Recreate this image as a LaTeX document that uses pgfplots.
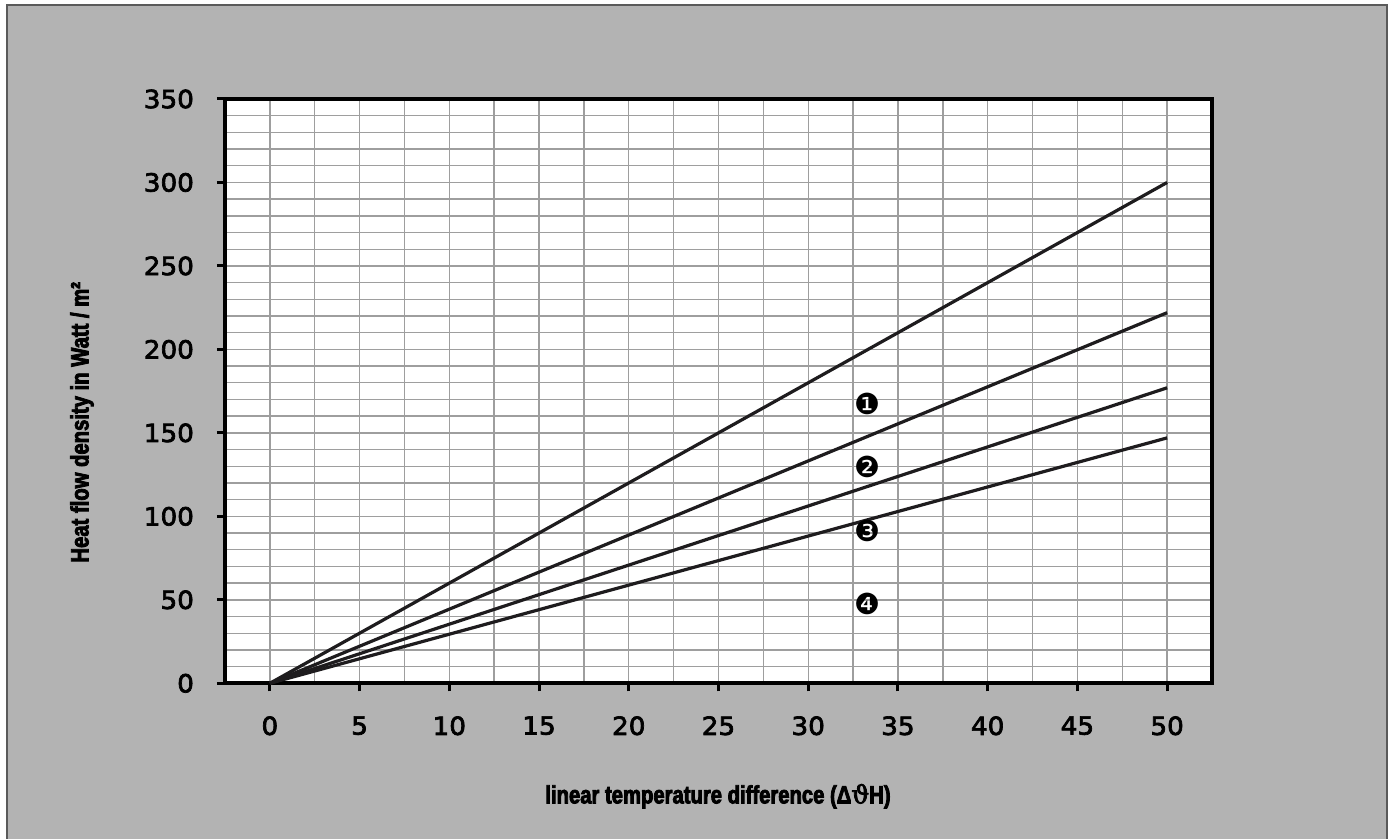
\documentclass[border=0pt]{standalone}
\usepackage{fontspec}
\setmainfont{Liberation Sans}
\newfontfamily\labfont[FakeStretch=0.81]{Liberation Sans Bold}
\newfontfamily\tickfont[FakeStretch=1.05]{DejaVu Sans}
\newfontfamily\symfont{DejaVu Sans}
\newfontfamily\thetafont{DejaVu Serif}
\newcommand\heavy[2]{\special{pdf:literal direct 2 Tr #1 w}#2\special{pdf:literal direct 0 Tr}}
\usepackage{pgfplots}
\pgfplotsset{compat=1.18}
\definecolor{bggray}{RGB}{179,179,179}
\definecolor{gridgray}{RGB}{158,158,158}
\definecolor{framegray}{RGB}{90,90,90}
\definecolor{linecol}{RGB}{30,28,30}
\begin{document}
\begin{tikzpicture}
\useasboundingbox (-112.5pt,-77.85pt) rectangle (584pt,341.65pt);
\fill[white] (-112.5pt,-77.85pt) rectangle (584pt,341.65pt);
\fill[bggray] (-109pt,-77.85pt) rectangle (581pt,339.15pt);
\draw[framegray, line width=1pt] (-109pt,-78pt) -- (-109pt,339.15pt) -- (581pt,339.15pt) -- (581pt,-78pt);
\begin{axis}[
  at={(0,0)}, anchor=south west,
  scale only axis,
  width=493.5pt, height=292.15pt,
  xmin=-2.5, xmax=52.5, ymin=0, ymax=350,
  xtick={0,5,...,50}, ytick={0,50,...,350},
  minor xtick={-2.5,2.5,...,52.5},
  minor ytick={10,20,30,40,60,70,80,90,110,120,130,140,160,170,180,190,210,220,230,240,260,270,280,290,310,320,330,340},
  xtick pos=bottom, ytick pos=left,
  grid=both,
  major grid style={gridgray, line width=0.7pt},
  minor grid style={gridgray, line width=0.7pt},
  axis background/.style={fill=white},
  axis line style={black, line width=2pt},
  tick align=outside,
  major tick length=4pt,
  minor tick length=0pt,
  every tick/.style={black, line width=1.5pt},
  tick label style={font=\tickfont\fontsize{12.5}{14}\selectfont},
  xticklabel={\heavy{0.35}{\pgfmathprintnumber{\tick}}},
  yticklabel={\heavy{0.35}{\pgfmathprintnumber{\tick}}},
  yticklabel style={xshift=-8pt},
  xticklabel style={yshift=-9pt},
  /pgf/number format/assume math mode=true,
  clip=false,
]
\addplot[linecol, line width=1.6pt] coordinates {(0,0) (50,300)};
\addplot[linecol, line width=1.6pt] coordinates {(0,0) (50,222)};
\addplot[linecol, line width=1.6pt] coordinates {(0,0) (50,177)};
\addplot[linecol, line width=1.6pt] coordinates {(0,0) (50,147)};
\node[font=\symfont\fontsize{14.5}{15}\selectfont] at (axis cs:33.3,167.5) {❶};
\node[font=\symfont\fontsize{14.5}{15}\selectfont] at (axis cs:33.3,129.5) {❷};
\node[font=\symfont\fontsize{14.5}{15}\selectfont] at (axis cs:33.3,91) {❸};
\node[font=\symfont\fontsize{14.5}{15}\selectfont] at (axis cs:33.3,47.5) {❹};
\end{axis}
\node[font=\labfont\fontsize{12.5}{14}\selectfont] at (246.5pt,-56.5pt) {\heavy{0.4}{linear temperature difference (Δ{\thetafont ϑ}H)}};
\node[font=\labfont\fontsize{12.5}{14}\selectfont, rotate=90] at (-71.5pt,130.5pt) {\heavy{0.4}{Heat flow density in Watt / m²}};
\end{tikzpicture}
\end{document}
